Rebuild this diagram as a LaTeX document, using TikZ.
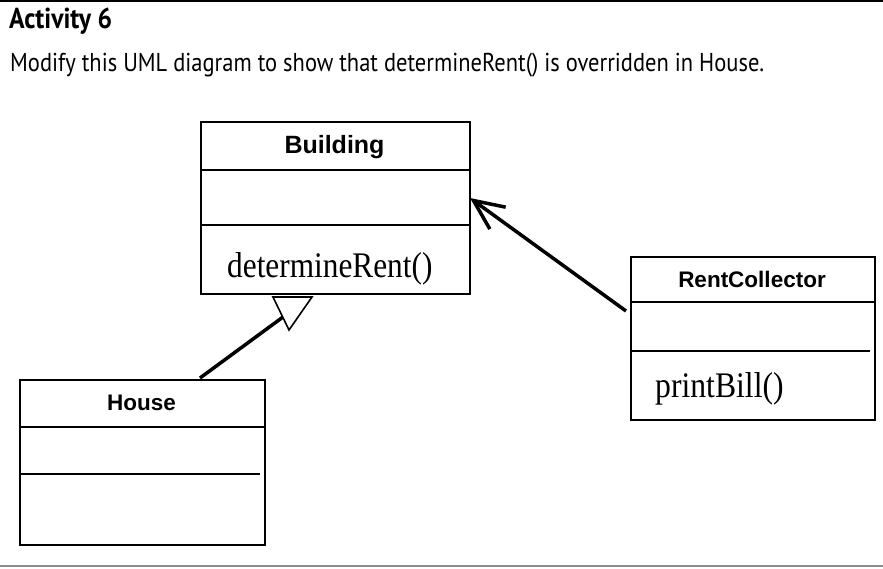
\documentclass[tikz,border=0pt]{standalone}
\usepackage{fontspec}
\setmainfont{Liberation Serif}
\newfontfamily\hdrfont{PT Sans}
\newfontfamily\arialfont{Liberation Sans}
\usetikzlibrary{arrows.meta}
\tikzset{
  classbox/.style={draw, line width=2pt, inner sep=0pt, anchor=north west, rectangle},
  divider/.style={line width=1.6pt},
  ctitle/.style={inner sep=0pt, font=\arialfont\bfseries\fontsize{#1}{#1}\selectfont},
  member/.style={inner sep=0pt, anchor=base west},
  connector/.style={line width=3.5pt},
}
\begin{document}
\begin{tikzpicture}[x=1pt,y=-1pt]
\useasboundingbox (0,0) rectangle (883,568);
% frame rules
\coordinate (tl) at (0,1); \coordinate (tr) at (883,1);
\draw[line width=2.2pt] (tl) -- (tr);
\coordinate (bl) at (0,565.5); \coordinate (br) at (883,565.5);
\draw[line width=2pt, black!45] (bl) -- (br);
% header
\node[inner sep=0pt, anchor=base west] (act) at (9,28) {\scalebox{1}[1.12]{\resizebox{103pt}{!}{\hdrfont\bfseries\fontsize{20}{20}\selectfont Activity 6}}};
\node[inner sep=0pt, anchor=base west] (task) at (10,71) {\scalebox{1}[1.15]{\resizebox{754pt}{!}{\hdrfont\fontsize{20}{20}\selectfont Modify this UML diagram to show that determineRent() is overridden in House.}}};
% Building
\node[classbox, minimum width=269pt, minimum height=172pt] (building) at (200,121) {};
\node[ctitle=25] (buildingT) at (334.5,147) {Building};
\draw[divider] (200,170) -- (469,170);
\draw[divider] (200,225) -- (469,225);
\node[member] (buildingM) at (227,277) {\scalebox{0.87}[1]{\fontsize{36}{36}\selectfont determineRent()}};
% House
\node[classbox, minimum width=245pt, minimum height=165pt] (house) at (19,379) {};
\node[ctitle=22.5] (houseT) at (141.5,403) {House};
\draw[divider] (19,427) -- (264,427);
\draw[divider] (19,474) -- (260,474);
% RentCollector
\node[classbox, minimum width=244pt, minimum height=163pt] (rent) at (630,256) {};
\node[ctitle=22.5] (rentT) at (752,279) {RentCollector};
\draw[divider] (630,302) -- (874,302);
\draw[divider] (630,351) -- (870,351);
\node[member] (rentM) at (655,397) {\scalebox{0.88}[1]{\fontsize{36}{36}\selectfont printBill()}};
% generalization House -> Building
\coordinate (hs) at (200,378);
\coordinate (ta) at (273,297);
\coordinate (tb) at (312,297);
\coordinate (tc) at (289,330);
\coordinate (te) at (283,317);
\draw[line width=1.6pt, fill=white, line join=miter] (ta) -- (tb) -- (tc) -- cycle;
\draw[connector] (hs) -- (te);
% association RentCollector -> Building
\coordinate (rs) at (626,311);
\coordinate (bt) at (470,198);
\draw[connector, -{Straight Barb[length=30pt,width=27pt,line width=3.5pt]}] (rs) -- (bt);
\end{tikzpicture}
\end{document}
